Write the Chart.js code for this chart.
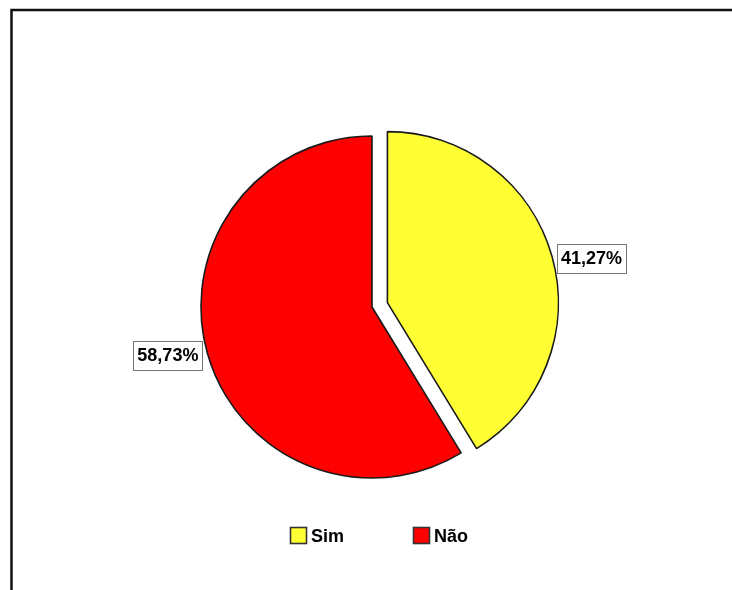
<!DOCTYPE html>
<html>
<head>
<meta charset="utf-8">
<script src="https://cdn.jsdelivr.net/npm/chart.js@4/dist/chart.umd.min.js"></script>
<style>
  html, body { margin: 0; padding: 0; background: #fff; }
  canvas { display: block; }
</style>
</head>
<body>
<canvas id="pie" width="732" height="590"></canvas>
<script>
// data
const categories = ['Sim', 'Não'];
const percents = [41.27, 58.73];
const sliceColors = ['#FFFF33', '#FF0000'];
const explode = [16, 0];   // px each slice is pulled out along its middle

const FONT = '"Liberation Sans", Arial, sans-serif';

function fmtPct(v) {
  return v.toFixed(2).replace('.', ',') + '%';
}

// pull slices out without letting the arc grow (Chart.js offset also enlarges the radius)
const explodePlugin = {
  id: 'explode',
  afterDatasetsUpdate(chart) {
    chart.getDatasetMeta(0).data.forEach((arc, i) => {
      const d = explode[i] || 0;
      if (!d) return;
      const half = (arc.startAngle + arc.endAngle) / 2;
      arc.x += Math.cos(half) * d;
      arc.y += Math.sin(half) * d;
    });
  }
};

// frame, value labels and legend
const decorPlugin = {
  id: 'decor',
  beforeDraw(chart) {
    const ctx = chart.ctx;
    ctx.save();
    ctx.fillStyle = '#fff';
    ctx.fillRect(0, 0, chart.width, chart.height);
    ctx.strokeStyle = '#111';
    ctx.lineWidth = 2.5;
    ctx.beginPath();
    ctx.moveTo(11.5, chart.height);
    ctx.lineTo(11.5, 10);
    ctx.lineTo(chart.width, 10);
    ctx.stroke();
    ctx.restore();
  },
  afterDraw(chart) {
    const ctx = chart.ctx;
    const meta = chart.getDatasetMeta(0);
    ctx.save();
    ctx.font = 'bold 18px ' + FONT;
    ctx.textBaseline = 'middle';

    meta.data.forEach((arc, i) => {
      const half = (arc.startAngle + arc.endAngle) / 2;
      const ax = arc.x + Math.cos(half) * arc.outerRadius;
      const ay = arc.y + Math.sin(half) * arc.outerRadius;

      const txt = fmtPct(percents[i]);
      const w = ctx.measureText(txt).width + 8;
      const h = 29;
      const right = Math.cos(half) >= 0;
      const bx = right ? ax + 5 : ax - 5 - w;
      const by = ay + 2 - h / 2;

      ctx.fillStyle = '#fff';
      ctx.fillRect(bx, by, w, h);
      ctx.strokeStyle = '#777';
      ctx.lineWidth = 1;
      ctx.strokeRect(Math.round(bx) + 0.5, Math.round(by) + 0.5, Math.round(w), Math.round(h));
      ctx.fillStyle = '#000';
      ctx.textAlign = 'center';
      ctx.fillText(txt, bx + w / 2, by + h / 2 + 1);
    });

    // legend
    const legX = 290, legY = 527, pitch = 123, box = 17;
    ctx.textAlign = 'left';
    categories.forEach((name, i) => {
      const x = legX + i * pitch;
      ctx.fillStyle = sliceColors[i];
      ctx.fillRect(x, legY, box, box);
      ctx.strokeStyle = '#333';
      ctx.lineWidth = 1.6;
      ctx.strokeRect(x + 0.5, legY + 0.5, box - 1, box - 1);
      ctx.fillStyle = '#000';
      ctx.fillText(name, x + box + 4, legY + box / 2 + 2);
    });
    ctx.restore();
  }
};

new Chart(document.getElementById('pie'), {
  type: 'pie',
  data: {
    labels: categories,
    datasets: [{
      data: percents,
      backgroundColor: sliceColors,
      borderColor: '#1a1a1a',
      borderWidth: 1.6,
      radius: 171
    }]
  },
  options: {
    responsive: false,
    animation: false,
    events: [],
    layout: { padding: { left: 182, right: 170, top: 117, bottom: 93 } },
    plugins: {
      legend: { display: false },
      tooltip: { enabled: false }
    }
  },
  plugins: [explodePlugin, decorPlugin]
});
</script>
</body>
</html>
